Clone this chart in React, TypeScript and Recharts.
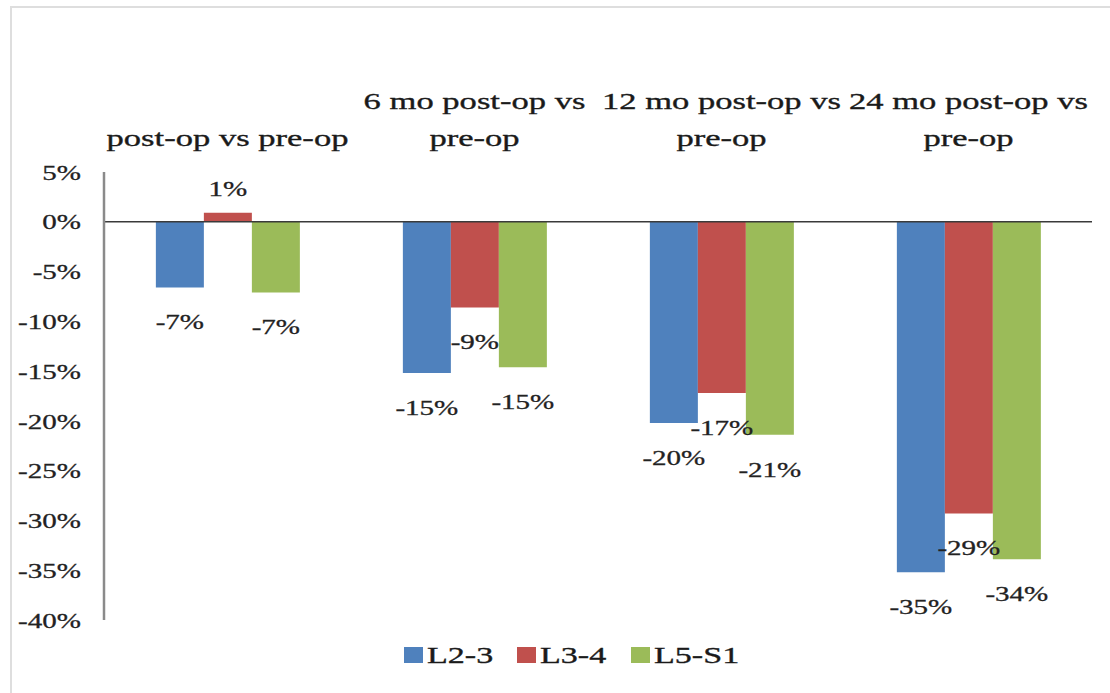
import { Bar, BarChart, LabelList, Legend, ReferenceLine, XAxis, YAxis } from "recharts";

// categories along the top axis
const categories = [
  "post-op vs pre-op",
  "6 mo post-op vs pre-op",
  "12 mo post-op vs pre-op",
  "24 mo post-op vs pre-op",
];

// percent change per disc level
const l23 = [-6.6, -15.2, -20.2, -35.2];
const l34 = [0.9, -8.6, -17.2, -29.3];
const l5s1 = [-7.1, -14.6, -21.4, -33.9];

const yTicks = [5, 0, -5, -10, -15, -20, -25, -30, -35, -40];

const data = categories.map((name, i) => ({
  name,
  l23: l23[i],
  l34: l34[i],
  l5s1: l5s1[i],
}));

const FONT = '"Liberation Serif", "Times New Roman", serif';
const CAT_SIZE = 24;
const CAT_SX = 1.44;
const NUM_SIZE = 22;
const NUM_SX = 1.32;
const LEG_SIZE = 24;
const LEG_SX = 1.42;

let measureCtx: CanvasRenderingContext2D | null = null;
function textWidth(s: string, size: number) {
  if (!measureCtx) measureCtx = document.createElement("canvas").getContext("2d");
  if (!measureCtx) return s.length * size * 0.45;
  measureCtx.font = `${size}px ${FONT}`;
  return measureCtx.measureText(s).width;
}

function wrapWords(label: string, size: number, sx: number, maxWidth: number) {
  const words = label.split(" ");
  const lines: string[] = [];
  let cur = "";
  for (const w of words) {
    const next = cur ? cur + " " + w : w;
    if (cur && textWidth(next, size) * sx > maxWidth) {
      lines.push(cur);
      cur = w;
    } else {
      cur = next;
    }
  }
  if (cur) lines.push(cur);
  return lines;
}

function CategoryTick({ x, y, payload }: any) {
  const lines = wrapWords(String(payload.value), CAT_SIZE, CAT_SX, 252);
  return (
    <g>
      {lines.map((line, i) => (
        <text
          key={i}
          transform={`translate(${x},${y - (lines.length - 1 - i) * 37}) scale(${CAT_SX},1)`}
          textAnchor="middle"
          fontFamily={FONT}
          fontSize={CAT_SIZE}
          fill="#1a1a1a"
          stroke="#1a1a1a"
          strokeWidth={0.35}
        >
          {line}
        </text>
      ))}
    </g>
  );
}

function PercentTick({ x, y, payload }: any) {
  return (
    <text
      transform={`translate(${x},${y}) scale(${NUM_SX},1)`}
      textAnchor="end"
      dy="0.35em"
      fontFamily={FONT}
      fontSize={NUM_SIZE}
      fill="#222"
      stroke="#222"
      strokeWidth={0.3}
    >
      {`${payload.value}%`}
    </text>
  );
}

function ValueLabel(props: any) {
  const box = props.viewBox && props.viewBox.width !== undefined ? props.viewBox : props;
  const { x, y, width, height } = box;
  const v = Number(props.value);
  const top = Math.min(y, y + height);
  const bottom = Math.max(y, y + height);
  const cx = x + width / 2;
  const cy = v < 0 ? bottom + 34 : top - 25;
  return (
    <text
      transform={`translate(${cx},${cy}) scale(${NUM_SX},1)`}
      textAnchor="middle"
      dy="0.35em"
      fontFamily={FONT}
      fontSize={NUM_SIZE}
      fill="#222"
      stroke="#222"
      strokeWidth={0.3}
    >
      {`${Math.round(v)}%`}
    </text>
  );
}

function SeriesLegend({ payload }: any) {
  return (
    <div style={{ display: "flex", justifyContent: "center", alignItems: "center", height: 30, gap: 24 }}>
      {(payload ?? []).map((entry: any) => (
        <div key={entry.value} style={{ display: "flex", alignItems: "center" }}>
          <span style={{ display: "inline-block", width: 19, height: 16, background: entry.color, marginRight: 4 }} />
          <span
            style={{
              display: "inline-block",
              width: textWidth(entry.value, LEG_SIZE) * LEG_SX,
              fontFamily: FONT,
              fontSize: LEG_SIZE,
              lineHeight: "30px",
              color: "#1a1a1a",
              WebkitTextStroke: "0.35px #1a1a1a",
            }}
          >
            <span
              style={{
                display: "inline-block",
                whiteSpace: "nowrap",
                transform: `scaleX(${LEG_SX})`,
                transformOrigin: "left center",
              }}
            >
              {entry.value}
            </span>
          </span>
        </div>
      ))}
    </div>
  );
}

export default function App() {
  return (
    <div
      style={{
        position: "absolute",
        left: 0,
        top: 0,
        width: 1110,
        height: 693,
        overflow: "hidden",
        background: "#fff",
      }}
    >
      <div
        style={{
          position: "absolute",
          left: 10,
          top: 6,
          width: 1200,
          height: 800,
          border: "2px solid #dedede",
          boxSizing: "border-box",
        }}
      />
      <div style={{ position: "absolute", left: 0, top: 0 }}>
        <BarChart
          width={1110}
          height={693}
          data={data}
          margin={{ top: 72, right: 18, bottom: 73, left: 0 }}
          barCategoryGap="21%"
          barGap={0}
        >
          <XAxis
            dataKey="name"
            orientation="top"
            height={100}
            axisLine={false}
            tickLine={false}
            tickSize={0}
            tickMargin={26}
            interval={0}
            tick={<CategoryTick />}
          />
          <YAxis
            width={104}
            domain={[-40, 5]}
            ticks={yTicks}
            interval={0}
            axisLine={{ stroke: "#8a8a8a", strokeWidth: 2.5 }}
            tickLine={false}
            tickSize={0}
            tickMargin={23}
            tick={<PercentTick />}
          />
          <Legend
            layout="horizontal"
            verticalAlign="middle"
            align="center"
            wrapperStyle={{ top: 640, left: 0, width: 1143 }}
            content={<SeriesLegend />}
          />
          <Bar dataKey="l23" name="L2-3" fill="#4f81bd" isAnimationActive={false}>
            <LabelList dataKey="l23" content={<ValueLabel />} />
          </Bar>
          <Bar dataKey="l34" name="L3-4" fill="#c0504d" isAnimationActive={false}>
            <LabelList dataKey="l34" content={<ValueLabel />} />
          </Bar>
          <Bar dataKey="l5s1" name="L5-S1" fill="#9bbb59" isAnimationActive={false}>
            <LabelList dataKey="l5s1" content={<ValueLabel />} />
          </Bar>
          <ReferenceLine y={0} stroke="#3a3a3a" strokeWidth={1.5} />
        </BarChart>
      </div>
    </div>
  );
}
